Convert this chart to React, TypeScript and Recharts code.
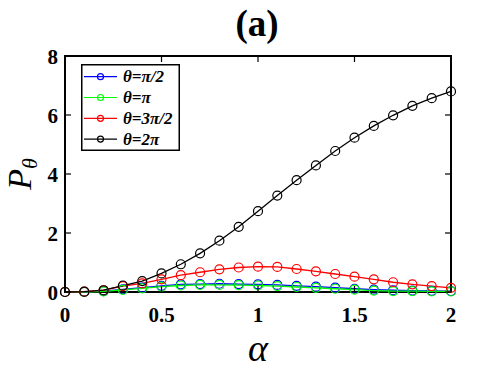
import React from 'react'
import { LineChart, Line, XAxis, YAxis, ReferenceArea, Legend } from 'recharts'

const alpha = [0, 0.1, 0.2, 0.3, 0.4, 0.5, 0.6, 0.7, 0.8, 0.9, 1.0, 1.1, 1.2, 1.3, 1.4, 1.5, 1.6, 1.7, 1.8, 1.9, 2.0]
const pHalfPi = [0, 0, 0.03, 0.09, 0.15, 0.21, 0.26, 0.27, 0.28, 0.27, 0.26, 0.24, 0.21, 0.18, 0.15, 0.11, 0.08, 0.06, 0.05, 0.04, 0.03]
const pPi = [0, 0, 0.02, 0.07, 0.12, 0.18, 0.22, 0.24, 0.24, 0.23, 0.22, 0.2, 0.17, 0.14, 0.11, 0.08, 0.05, 0.03, 0.03, 0.02, 0.02]
const p3HalfPi = [0, 0.01, 0.06, 0.2, 0.29, 0.43, 0.57, 0.67, 0.77, 0.83, 0.86, 0.85, 0.78, 0.7, 0.61, 0.52, 0.43, 0.33, 0.26, 0.2, 0.14]
const p2Pi = [0, 0.01, 0.06, 0.22, 0.37, 0.63, 0.94, 1.31, 1.74, 2.21, 2.74, 3.27, 3.79, 4.29, 4.78, 5.23, 5.63, 5.99, 6.31, 6.57, 6.8]

const xTicks = [0, 0.5, 1, 1.5, 2]
const yTicks = [0, 2, 4, 6, 8]

const series = [
  { key: 'half', label: 'θ=π/2', color: '#0000ff', values: pHalfPi },
  { key: 'pi', label: 'θ=π', color: '#00ff00', values: pPi },
  { key: 'threeHalf', label: 'θ=3π/2', color: '#ff0000', values: p3HalfPi },
  { key: 'twoPi', label: 'θ=2π', color: '#000000', values: p2Pi },
]

const data = alpha.map((a, i) => {
  const row: Record<string, number> = { a }
  series.forEach((s) => { row[s.key] = s.values[i] })
  return row
})

const W = 498
const H = 374
const MARGIN = { top: 56, right: 47, bottom: 32, left: 15 }
const TICK_LEN = 6
const SERIF = '"Liberation Serif", "Times New Roman", Times, Tinos, serif'

const XTick = (props: any) => {
  const { x, y, payload } = props
  const top = MARGIN.top
  return (
    <g>
      <line x1={x} x2={x} y1={y} y2={y - TICK_LEN} stroke="#000" strokeWidth={1.2} />
      <line x1={x} x2={x} y1={top} y2={top + TICK_LEN} stroke="#000" strokeWidth={1.2} />
      <text x={x} y={y + 30} textAnchor="middle" style={{ fontFamily: SERIF, fontWeight: 'bold', fontSize: 21 }} fill="#000">
        {payload.value}
      </text>
    </g>
  )
}

const YTick = (props: any) => {
  const { x, y, payload } = props
  const right = W - MARGIN.right
  return (
    <g>
      <line x1={x} x2={x + TICK_LEN} y1={y} y2={y} stroke="#000" strokeWidth={1.2} />
      <line x1={right} x2={right - TICK_LEN} y1={y} y2={y} stroke="#000" strokeWidth={1.2} />
      <text x={x - 7} y={y + 7.5} textAnchor="end" style={{ fontFamily: SERIF, fontWeight: 'bold', fontSize: 21 }} fill="#000">
        {payload.value}
      </text>
    </g>
  )
}

const LegendBox = () => (
  <svg width={99} height={87} style={{ display: 'block' }}>
    <rect x={0.75} y={0.75} width={97.5} height={85.5} fill="#fff" stroke="#000" strokeWidth={1.5} />
    {series.map((s, i) => {
      const cy = 12.7 + i * 20.8
      return (
        <g key={s.key}>
          <line x1={3} x2={36} y1={cy} y2={cy} stroke={s.color} strokeWidth={1.2} />
          <circle cx={19.5} cy={cy} r={3} fill="none" stroke={s.color} strokeWidth={1.2} />
          <text x={42} y={cy + 5.5} style={{ fontFamily: SERIF, fontWeight: 'bold', fontStyle: 'italic', fontSize: 17 }} fill="#000">
            {s.label}
          </text>
        </g>
      )
    })}
  </svg>
)

export default function App() {
  return (
    <div style={{ position: 'absolute', left: 0, top: 0, width: W, height: H, background: '#fff' }}>
      <LineChart width={W} height={H} data={data} margin={MARGIN}>
        <text x={257} y={36} textAnchor="middle" style={{ fontFamily: SERIF, fontWeight: 'bold', fontSize: 37 }} fill="#000">
          (a)
        </text>
        <XAxis
          dataKey="a"
          type="number"
          domain={[0, 2]}
          ticks={xTicks}
          height={50}
          tickSize={0}
          tickMargin={0}
          axisLine={false}
          tickLine={false}
          tick={<XTick />}
        />
        <YAxis
          type="number"
          domain={[0, 8]}
          ticks={yTicks}
          width={50}
          tickSize={0}
          tickMargin={0}
          axisLine={false}
          tickLine={false}
          tick={<YTick />}
        />
        <ReferenceArea x1={0} x2={2} y1={0} y2={8} fill="none" stroke="#000" strokeWidth={2} ifOverflow="visible" />
        {series.map((s) => (
          <Line
            key={s.key}
            dataKey={s.key}
            name={s.label}
            type="linear"
            stroke={s.color}
            strokeWidth={1.3}
            dot={{ r: 4.5, fill: 'none', stroke: s.color, strokeWidth: 1.2 }}
            isAnimationActive={false}
          />
        ))}
        <Legend
          layout="vertical"
          align="center"
          verticalAlign="middle"
          content={<LegendBox />}
          wrapperStyle={{ left: 81, top: 64, width: 99, height: 87 }}
        />
        <text x={258} y={361} textAnchor="middle" style={{ fontFamily: SERIF, fontStyle: 'italic', fontSize: 38 }} fill="#000">
          α
        </text>
        <g transform="translate(31, 174) rotate(-90)">
          <text x={0} y={0} textAnchor="middle" style={{ fontFamily: SERIF, fontStyle: 'italic' }} fill="#000">
            <tspan fontSize={34}>P</tspan>
            <tspan fontSize={22} dy={6}>θ</tspan>
          </text>
        </g>
      </LineChart>
    </div>
  )
}
